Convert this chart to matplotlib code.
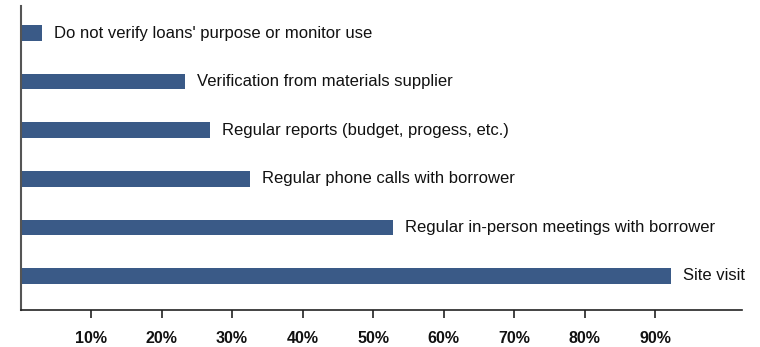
import matplotlib.pyplot as plt

# Loan monitoring methods, share of lenders using each
methods = [
    'Site visit',
    'Regular in-person meetings with borrower',
    'Regular phone calls with borrower',
    'Regular reports (budget, progess, etc.)',
    'Verification from materials supplier',
    "Do not verify loans' purpose or monitor use",
]
shares = [92.2, 52.8, 32.6, 26.9, 23.4, 3.1]

tick_vals = [10, 20, 30, 40, 50, 60, 70, 80, 90]
tick_labels = [f'{v}%' for v in tick_vals]

plt.rcParams['font.family'] = ['Liberation Sans', 'DejaVu Sans']

fig = plt.figure(figsize=(7.6, 3.47), dpi=100)
ax = fig.add_axes([0.027, 0.1066, 0.949, 0.876])

pos = list(range(len(methods)))
bars = ax.barh(pos, shares, height=0.32, color='#3a5a87')

# category names sit just past the end of each bar
for b, name in zip(bars, methods):
    ax.annotate(name, (b.get_width(), b.get_y() + b.get_height() / 2),
                xytext=(12, 0), textcoords='offset pixels',
                ha='left', va='center', fontsize=12, color='#111111')

ax.set_xlim(0, 102.3)
ax.set_ylim(-0.7, 5.556)
ax.set_xticks(tick_vals)
ax.set_xticklabels(tick_labels, fontsize=11.5, fontweight='bold', color='#111111')
ax.set_yticks([])
ax.tick_params(axis='x', length=6, width=1.2, color='#222222', pad=9)

for side in ['top', 'right']:
    ax.spines[side].set_visible(False)
ax.spines['left'].set_color('#555555')
ax.spines['left'].set_linewidth(1.5)
ax.spines['bottom'].set_color('#222222')
ax.spines['bottom'].set_linewidth(1.2)

fig.savefig('out.png', dpi=100)
